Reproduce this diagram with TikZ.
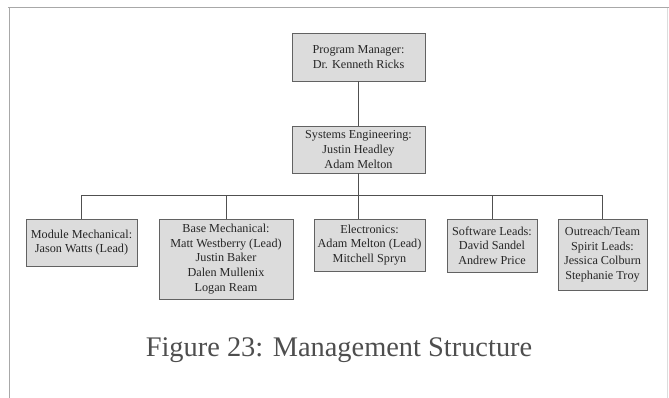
\documentclass[tikz,border=0pt]{standalone}
\usepackage{fontspec}
\setmainfont{Liberation Serif}
\definecolor{boxfill}{HTML}{DCDCDC}
\definecolor{boxedge}{HTML}{626262}
\definecolor{boxtext}{HTML}{262626}
\definecolor{wire}{HTML}{505050}
\definecolor{captext}{HTML}{4E4E4E}
\definecolor{frame}{HTML}{A8A8A8}
\begin{document}
\begin{tikzpicture}[x=1pt,y=-1pt,
  orgbox/.style={draw=boxedge, fill=boxfill, line width=0.9pt, inner sep=0pt,
    align=center, text=boxtext, font=\fontsize{12.2}{14.6}\selectfont},
  wire/.style={draw=wire, line width=0.8pt}]
  \useasboundingbox (0,0) rectangle (669,398);
  % page frame
  \draw[frame, line width=1pt] (8,8) -- (669,8);
  \draw[frame, line width=1pt] (9,8) -- (9,398);
  \draw[frame!40, line width=0.6pt] (667,8) -- (667,398);

  % top of the hierarchy
  \node[orgbox, minimum width=133pt, minimum height=48pt] (pm) at (358.5,57)
    {Program Manager:\\Dr. Kenneth Ricks};
  \node[orgbox, minimum width=133pt, minimum height=47pt] (sys) at (358.5,149.5)
    {Systems Engineering:\\Justin Headley\\Adam Melton};

  % team leads
  \node[orgbox, minimum width=111pt, minimum height=47pt] (mod) at (81.5,242.5)
    {Module Mechanical:\\Jason Watts (Lead)};
  \node[orgbox, minimum width=134pt, minimum height=80pt] (base) at (226,259)
    {Base Mechanical:\\Matt Westberry (Lead)\\Justin Baker\\Dalen Mullenix\\Logan Ream};
  \node[orgbox, minimum width=111pt, minimum height=52pt] (elec) at (369.5,245)
    {Electronics:\\Adam Melton (Lead)\\Mitchell Spryn};
  \node[orgbox, minimum width=90pt, minimum height=53pt] (soft) at (492,245.5)
    {Software Leads:\\David Sandel\\Andrew Price};
  \node[orgbox, minimum width=89pt, minimum height=71pt] (out) at (602.5,254.5)
    {Outreach/Team\\Spirit Leads:\\Jessica Colburn\\Stephanie Troy};

  % connectors
  \coordinate (bus) at (358.5,195);
  \draw[wire] (pm.south) -- (sys.north);
  \draw[wire] (sys.south) -- (bus);
  \draw[wire] (bus) -| (mod.north);
  \draw[wire] (bus) -| (base.north);
  \draw[wire] (bus) -- (bus |- elec.north);
  \draw[wire] (bus) -| (soft.north);
  \draw[wire] (bus) -| (out.north);

  % caption
  \node[text=captext, font=\fontsize{28.4}{32}\selectfont, inner sep=0pt] (cap) at (339,350)
    {Figure 23: Management Structure};
\end{tikzpicture}
\end{document}
